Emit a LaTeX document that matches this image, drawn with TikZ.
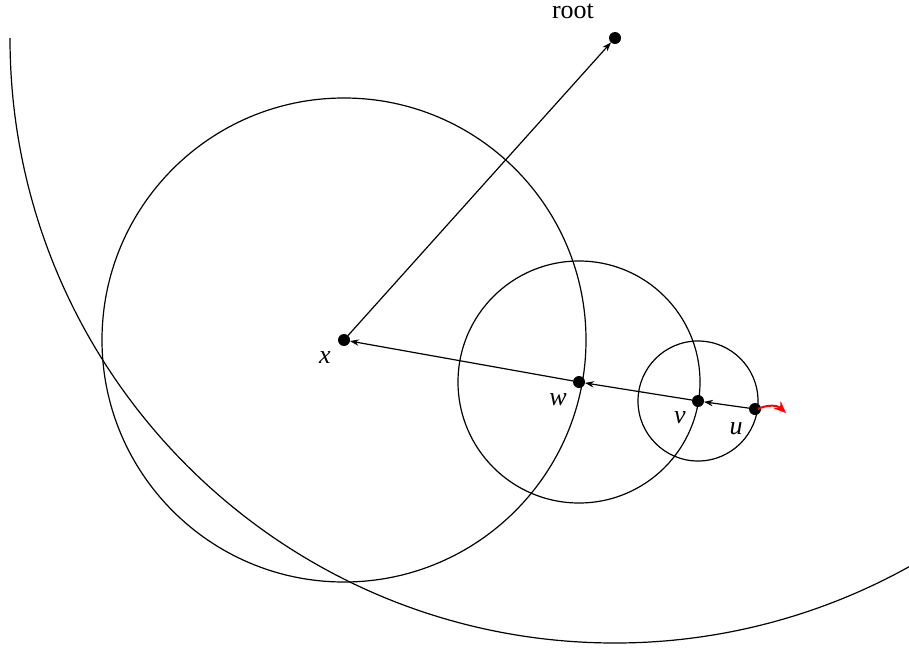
\documentclass[tikz,border=0pt]{standalone}
\usepackage{fontspec}
\setmainfont{Liberation Serif}
\usetikzlibrary{arrows.meta}
\begin{document}
\begin{tikzpicture}[x=0.5pt,y=0.5pt,
  dot/.style={circle,fill=black,inner sep=0pt,minimum size=6pt,outer sep=0pt},
  lbl/.style={font=\fontsize{13}{15}\selectfont},
  ptr/.style={line width=0.6pt,-{Stealth[length=4.5pt,width=3.2pt]}},
  ring/.style={line width=0.6pt}]
\useasboundingbox (0,0) rectangle (909,650);
\clip (0,0) rectangle (909,650);
% points
\coordinate (rootc) at (615,612);
\coordinate (xc) at (344,310);
\coordinate (wc) at (579,268);
\coordinate (vc) at (698,249);
\coordinate (uc) at (755,241);
% circles
\draw[ring] (xc) circle[radius=242];
\draw[ring] (wc) circle[radius=121];
\draw[ring] (vc) circle[radius=60];
\draw[ring] (10,612) arc[start angle=180,end angle=302,radius=605];
% dots
\node[dot] (root) at (rootc) {};
\node[dot] (x) at (xc) {};
\node[dot] (w) at (wc) {};
\node[dot] (v) at (vc) {};
\node[dot] (u) at (uc) {};
% labels
\node[lbl] (lroot) at (573,639) {root};
\node[lbl] (lx) at (325,292) {\textit{x}};
\node[lbl] (lw) at (558,250) {\textit{w}};
\node[lbl] (lv) at (680,232) {\textit{v}};
\node[lbl] (lu) at (736,221) {\textit{u}};
% pointers
\draw[ptr] (x) -- (root);
\draw[ptr] (w) -- (x);
\draw[ptr] (v) -- (w);
\draw[ptr] (u) -- (v);
% red move
\coordinate (redend) at (786,237);
\draw[red,line width=1pt,-{Stealth[length=6pt,width=5pt]}] (u.center) ++(3,0) to[bend left=35] (redend);
\end{tikzpicture}
\end{document}
